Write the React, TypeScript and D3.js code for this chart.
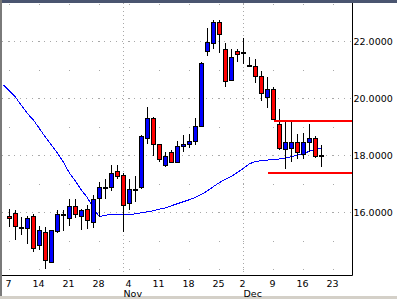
import React from 'react';
import * as d3 from 'd3';

const W = 397;
const H = 299;

// x-axis labels (trading-day index of each label)
const dayLabels = ['7', '14', '21', '28', '4', '11', '18', '25', '2', '9', '16', '23'];
const dayLabelIdx = [0, 5, 10, 15, 20, 25, 30, 35, 39, 44, 49, 54];
const monthLabels = ['Nov', 'Dec'];
const monthIdx = [19, 39];

// y-axis
const yTicks = [16, 18, 20, 22];
const yMinorRows = [14, 15, 16, 17, 18, 19, 20, 21, 22];

// OHLC, Oct 7 .. Dec 18
const opens = [15.87, 16.0, 15.5, 15.47, 15.88, 14.85, 15.3, 14.27, 15.35, 15.94,
  15.79, 16.22, 15.89, 16.11, 15.65, 16.51, 16.9, 16.9, 17.45, 17.33,
  16.34, 16.8, 16.9, 18.6, 19.33, 18.39, 17.68, 18.14, 17.78, 18.34,
  18.41, 18.5, 19.05, 21.65, 21.96, 22.67, 21.75, 20.65, 21.66, 21.64,
  21.19, 21.13, 20.78, 20.06, 20.32, 19.12, 18.22, 18.25, 18.46, 18.04,
  18.48, 18.63, 18.02];
const highs = [16.11, 16.08, 15.84, 15.89, 15.93, 15.52, 15.48, 15.4, 16.08, 16.08,
  16.49, 16.49, 16.11, 16.28, 16.63, 17.07, 17.16, 17.66, 17.66, 17.37,
  17.19, 17.28, 18.71, 19.69, 19.35, 18.41, 18.13, 18.19, 18.5, 18.71,
  18.75, 19.3, 21.28, 22.46, 22.75, 22.75, 21.93, 21.72, 21.72, 22.12,
  21.46, 21.37, 20.97, 20.74, 20.41, 19.62, 19.18, 19.2, 18.77, 18.79,
  19.09, 18.7, 18.36];
const lows = [15.49, 15.05, 15.2, 14.91, 14.6, 14.7, 14.01, 14.25, 15.28, 15.34,
  15.53, 15.82, 15.38, 15.42, 15.46, 15.84, 16.47, 16.75, 17.17, 15.32,
  16.08, 16.37, 16.82, 18.42, 17.98, 17.78, 17.58, 17.76, 17.75, 18.13,
  18.28, 18.36, 19.03, 21.49, 21.75, 21.6, 20.39, 20.6, 21.28, 21.2,
  21.11, 20.53, 19.92, 19.68, 19.26, 18.2, 17.51, 17.78, 17.86, 17.89,
  18.13, 17.92, 17.58];
const closes = [15.79, 15.54, 15.49, 15.79, 14.74, 15.39, 14.33, 15.37, 15.93, 15.96,
  16.22, 15.93, 16.08, 15.72, 16.49, 16.91, 16.9, 17.4, 17.28, 16.28,
  16.84, 16.81, 18.68, 19.33, 18.4, 17.86, 18.0, 17.78, 18.35, 18.42,
  18.5, 19.05, 21.26, 22.0, 22.7, 22.25, 20.63, 21.44, 21.56, 21.64,
  21.19, 20.79, 20.21, 20.32, 19.28, 18.25, 18.46, 18.49, 18.11, 18.46,
  18.6, 18.0, 18.02];

// moving average, starting one day before the first candle
const maStart = -1;
const maValues = [20.48, 20.27, 20.05, 19.75, 19.47, 19.24, 18.94, 18.64, 18.36, 18.08,
  17.76, 17.38, 17.1, 16.78, 16.52, 16.13, 15.85, 15.91, 15.92, 15.93,
  15.92, 15.92, 15.96, 15.99, 16.03, 16.06, 16.12, 16.16, 16.24, 16.31,
  16.38, 16.45, 16.53, 16.64, 16.76, 16.91, 17.05, 17.17, 17.27, 17.41,
  17.55, 17.71, 17.79, 17.82, 17.84, 17.86, 17.88, 17.91, 17.96, 18.01,
  18.07, 18.15, 18.2, 18.27];

// horizontal red levels
const levelValues = [19.2, 17.39];
const levelStartIdx = [44, 43];

const PL = 2, PR = 352, PT = 3, PB = 275;

export default function App() {
  const x = d3.scaleLinear().domain([0, 54]).range([9.5, 333.5]);
  const y = d3.scaleLinear().domain([16, 22]).range([212.5, 41.5]);
  const font = 'DejaVu Sans, Verdana, sans-serif';
  const fs = 9.5;

  const maLine = d3.line<number>()
    .x((_, i) => x(i + maStart))
    .y((d) => y(d))(maValues) || '';

  const weekIdx = dayLabelIdx;

  return (
    <svg width={W} height={H} style={{ position: 'absolute', left: 0, top: 0, background: '#fff' }}>
      <defs>
        <clipPath id="plot">
          <rect x={PL} y={PT} width={PR - PL} height={PB - PT} />
        </clipPath>
      </defs>
      <rect x={0} y={0} width={W} height={H} fill="#fff" />
      {/* frame */}
      <rect x={0} y={0} width={W} height={3} fill="#4a5570" />
      <rect x={0} y={0} width={2} height={H} fill="#7a7a7a" />
      <rect x={0} y={H - 3} width={W} height={3} fill="#d4d0c8" />

      {/* even gridlines */}
      {yTicks.map((t) => (
        <line key={'g' + t} x1={PL} x2={PR} y1={y(t)} y2={y(t)} stroke="#a8a8a8" strokeDasharray="1,5" />
      ))}
      {/* week dots */}
      {weekIdx.map((wi) => (
        <g key={'w' + wi}>
          {yMinorRows.map((r) => (
            <rect key={r} x={Math.floor(x(wi))} y={Math.floor(y(r))} width={1} height={1} fill="#a8a8a8" />
          ))}
          <rect x={Math.floor(x(wi))} y={4} width={1} height={1} fill="#a8a8a8" />
        </g>
      ))}
      {/* month lines */}
      {monthIdx.map((mi) => (
        <line key={'m' + mi} x1={x(mi)} x2={x(mi)} y1={PT} y2={PB} stroke="#a8a8a8" strokeDasharray="1,3" />
      ))}

      <g clipPath="url(#plot)">
        <path d={maLine} fill="none" stroke="#0000ff" strokeWidth={1} shapeRendering="crispEdges" />
        {opens.map((o, i) => {
          const c = closes[i];
          const cx = x(i);
          const top = Math.round(y(Math.max(o, c)));
          const bot = Math.round(y(Math.min(o, c)));
          const fill = c > o ? '#0000ff' : c < o ? '#ff0000' : '#000';
          return (
            <g key={i} shapeRendering="crispEdges">
              <line x1={cx} x2={cx} y1={y(highs[i])} y2={y(lows[i])} stroke="#000" />
              <rect x={cx - 2} y={top + 0.5} width={4} height={Math.max(1, bot - top)} fill={fill} stroke="#000" />
            </g>
          );
        })}
        {levelValues.map((v, k) => (
          <line key={'l' + k} x1={x(levelStartIdx[k])} x2={PR} y1={y(v)} y2={y(v)} stroke="#ff0000" strokeWidth={2} shapeRendering="crispEdges" />
        ))}
      </g>

      {/* axes */}
      <line x1={PL} x2={PR + 0.5} y1={PB + 0.5} y2={PB + 0.5} stroke="#000" />
      <line x1={PR + 0.5} x2={PR + 0.5} y1={PT} y2={PB + 0.5} stroke="#000" />

      {yTicks.map((t) => (
        <text key={'yt' + t} x={353.5} y={y(t) + 3.5} fontFamily={font} fontSize={fs} fill="#000">
          {t.toFixed(4)}
        </text>
      ))}
      {dayLabels.map((l, k) => (
        <text key={'xl' + k} x={x(dayLabelIdx[k]) - 1} y={286.8} textAnchor="middle" fontFamily={font} fontSize={fs} fill="#000">
          {l}
        </text>
      ))}
      {monthLabels.map((l, k) => (
        <text key={'ml' + k} x={x(monthIdx[k])} y={297} fontFamily={font} fontSize={fs} fill="#000">
          {l}
        </text>
      ))}
    </svg>
  );
}
